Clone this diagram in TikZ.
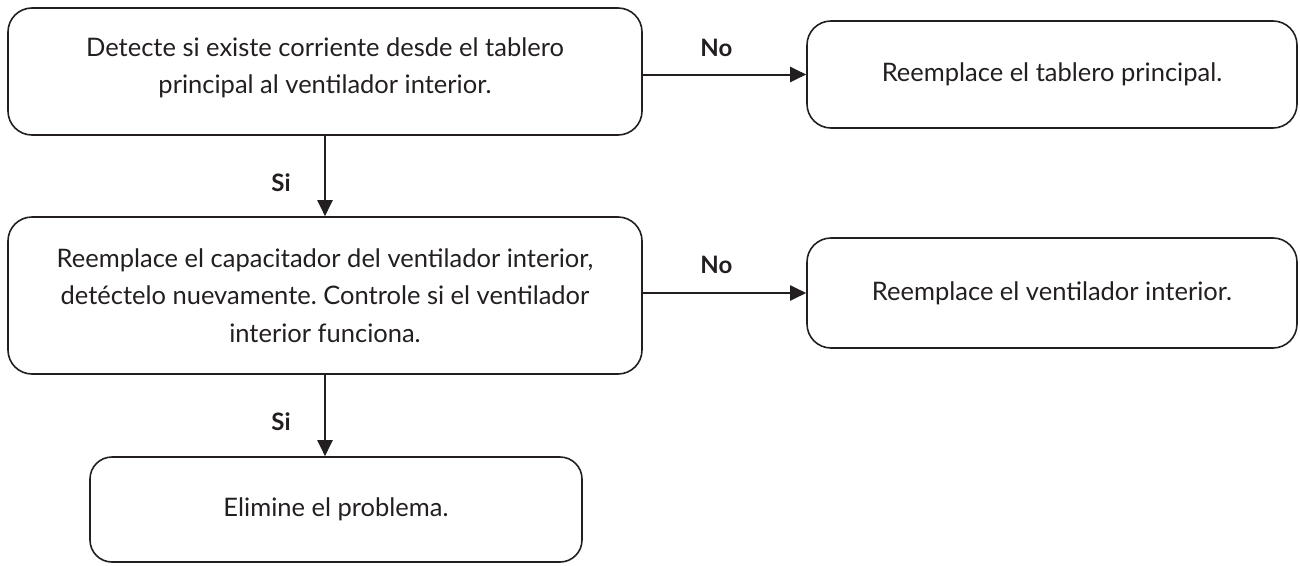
\documentclass[tikz,border=0pt]{standalone}
\usepackage{fontspec}
\setmainfont{Lato}
\usetikzlibrary{arrows.meta,calc}
\definecolor{ink}{HTML}{231F20}
\tikzset{
  box/.style={draw=ink, line width=1.6pt, rounded corners=24pt, align=center,
    font=\fontsize{25.5}{37.5}\selectfont, text=ink, inner sep=0pt},
  conn/.style={draw=ink, line width=2pt, -{Triangle[length=16pt,width=15pt]}},
  lbl/.style={font=\bfseries\fontsize{24}{28}\selectfont, text=ink, inner sep=0pt},
}
\frenchspacing
\begin{document}
\begin{tikzpicture}[x=1pt,y=-1pt]
\useasboundingbox (0,0) rectangle (1300,565);
\node[box, minimum width=634pt, minimum height=127pt, text depth=12pt] (b1) at (325,71.5)
  {Detecte si existe corriente desde el tablero\\principal al ventilador interior.};
\node[box, minimum width=490pt, minimum height=107pt] (b2) at (1052,74.5)
  {Reemplace el tablero principal.};
\node[box, minimum width=634pt, minimum height=157pt] (b3) at (325,295.5)
  {Reemplace el capacitador del ventilador interior,\\detéctelo nuevamente. Controle si el ventilador\\interior funciona.};
\node[box, minimum width=490pt, minimum height=110pt] (b4) at (1052,293)
  {Reemplace el ventilador interior.};
\node[box, rounded corners=22pt, minimum width=492pt, minimum height=105pt] (b5) at (336,509.5)
  {Elimine el problema.};
\draw[conn] (b2.west -| b1.east) -- node[lbl, pos=.45, yshift=27pt] {No} (b2.west);
\draw[conn] (b4.west -| b3.east) -- node[lbl, pos=.45, yshift=28pt] {No} (b4.west);
\draw[conn] (b1.south) -- node[lbl, xshift=-44pt, yshift=-7pt] {Si} (b3.north);
\draw[conn] (b3.south) -- node[lbl, xshift=-44pt, yshift=-6pt] {Si} (b3.south |- b5.north);
\end{tikzpicture}
\end{document}
